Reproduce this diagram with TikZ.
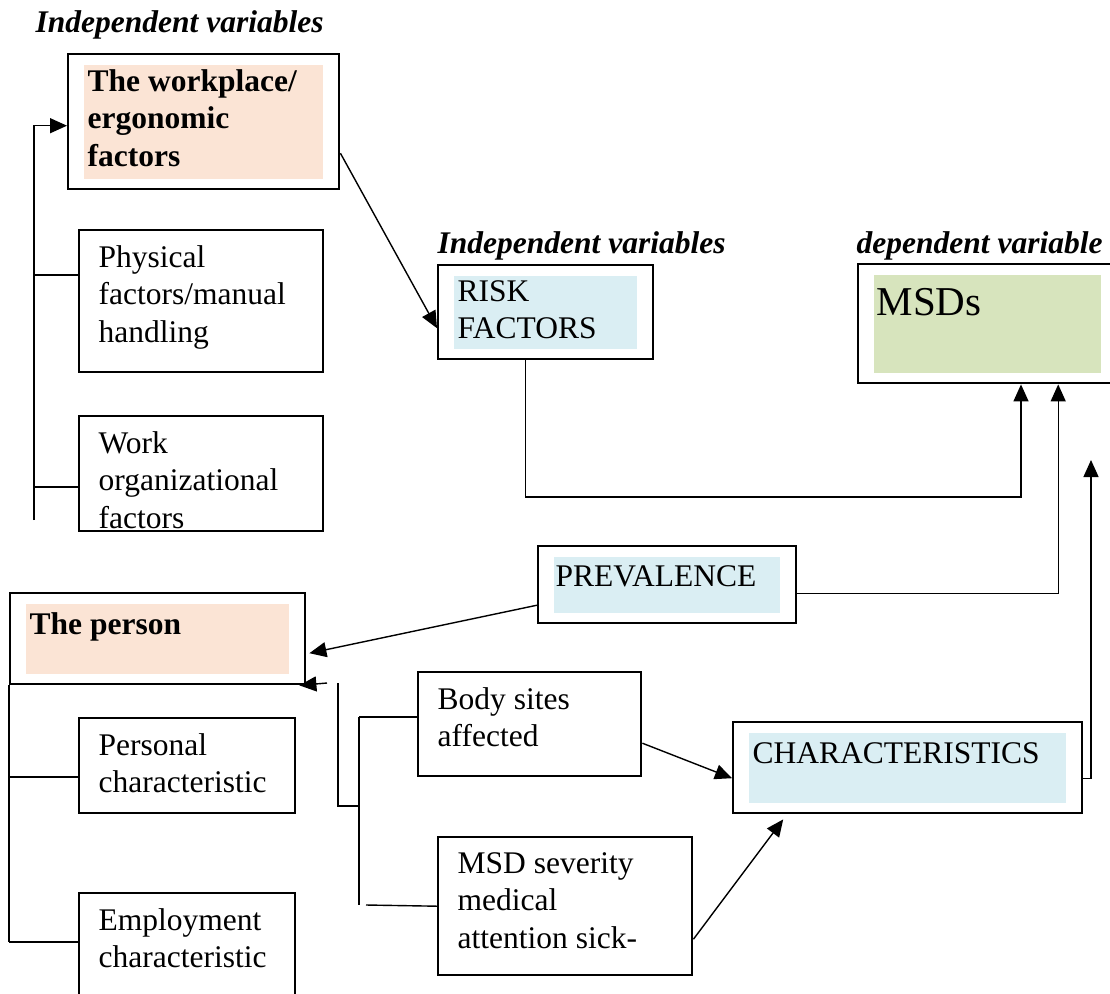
\documentclass[tikz,border=0pt]{standalone}
\usepackage{fontspec}
\setmainfont{Liberation Serif}
\usetikzlibrary{arrows.meta}

\definecolor{peach}{HTML}{FBE4D5}
\definecolor{paleblue}{HTML}{DAEEF3}
\definecolor{palegreen}{HTML}{D7E4BD}
\newcommand{\boxfont}{\fontsize{31.5}{37.5}\selectfont}

\begin{document}
\begin{tikzpicture}[x=1pt,y=-1pt,>={Triangle[length=17pt,width=15pt]},line width=1.4pt,
	box/.style={draw,line width=2.4pt,anchor=north west,inner sep=0pt},
	shade in/.style={path picture={\fill[#1] ([xshift=16pt,yshift=-11pt]path picture bounding box.north west) rectangle ([xshift=-16pt,yshift=10pt]path picture bounding box.south east);}},
	txt/.style={anchor=north west,inner sep=0pt,align=left,font=\boxfont,xshift=20pt,yshift=-15.5pt,execute at begin node=\strut},
	head/.style={anchor=base west,inner sep=0pt,font=\boxfont\bfseries\itshape}]
	\useasboundingbox (0,0) rectangle (1110,993);
	
	\node[head] (indep1) at (35,32) {Independent variables};
	\node[head] (indep2) at (437,253) {Independent variables};
	\node[head] (dep) at (856,253) {dependent variable};
	
	% the workplace
	\node[box,minimum width=271pt,minimum height=135pt,shade in=peach,label={[txt,font=\boxfont\bfseries]north west:The workplace/\\ergonomic\\factors}] (work) at (67,53) {};
	\node[box,minimum width=244pt,minimum height=142pt,label={[txt]north west:Physical\\factors/manual\\handling}] (phys) at (78,229) {};
	\node[box,minimum width=244pt,minimum height=115pt,label={[txt]north west:Work\\organizational\\factors}] (org) at (78,415) {};
	
	% risk, prevalence, msds
	\node[box,minimum width=215pt,minimum height=94pt,shade in=paleblue,label={[txt]north west:RISK\\FACTORS}] (risk) at (437,264) {};
	\node[box,minimum width=259pt,minimum height=119pt,shade in=palegreen,label={[txt,font=\fontsize{41}{48}\selectfont,xshift=-1pt,yshift=-3pt]north west:MSDs}] (msds) at (857,263) {};
	\node[box,minimum width=258pt,minimum height=77pt,shade in=paleblue,label={[txt,xshift=-2pt,yshift=1pt]north west:PREVALENCE}] (prev) at (537,545) {};
	
	% the person
	\node[box,minimum width=295pt,minimum height=91pt,shade in=peach,label={[txt,font=\boxfont\bfseries]north west:The person}] (person) at (9,592) {};
	\node[box,minimum width=216pt,minimum height=95pt,label={[txt]north west:Personal\\characteristic}] (pers) at (78,717) {};
	\node[box,minimum width=216pt,minimum height=130pt,label={[txt]north west:Employment\\characteristic}] (empl) at (78,892) {};
	
	% characteristics
	\node[box,minimum width=223pt,minimum height=104pt,label={[txt]north west:Body sites\\affected}] (body) at (417,671) {};
	\node[box,minimum width=254pt,minimum height=138pt,label={[txt]north west:MSD severity\\medical\\attention sick-}] (sev) at (437,836) {};
	\node[box,minimum width=349pt,minimum height=91pt,shade in=paleblue,label={[txt]north west:CHARACTERISTICS}] (char) at (732,721) {};
	
	\coordinate (wbot) at (34,520);
	\coordinate (wphys) at (34,275);
	\coordinate (worg) at (34,487);
	\draw[->] (wbot) |- ([yshift=-4pt]work.west);
	\draw (wphys) -- (wphys -| phys.west);
	\draw (worg) -- (worg -| org.west);
	
	\draw[->] ([yshift=-31.5pt]work.east) -- ([yshift=-16pt]risk.west);
	\coordinate (rjoin) at (1021,497);
	\draw[->] ([xshift=-20pt]risk.south) |- (rjoin) -- (rjoin |- msds.south);
	\draw[->] ([yshift=-8.5pt]prev.east) -| ([xshift=70.5pt]msds.south);
	\draw[->] ([yshift=-20.5pt]prev.west) -- ([xshift=3pt,yshift=-14.5pt]person.east);
	
	\coordinate (ctop) at (1091,460);
	\draw[->] ([yshift=-10.5pt]char.east) -| (ctop);
	\draw[->] ([yshift=-19pt]body.east) -- ([yshift=-10.5pt]char.west);
	\draw[->] ([yshift=-33pt]sev.east) -- ([xshift=-124.5pt,yshift=-5pt]char.south);
	
	\coordinate (pin) at (327,683);
	\coordinate (e1) at (338,683);
	\coordinate (e2) at (359,806);
	\coordinate (btop) at (359,717);
	\coordinate (bbot) at (359,905);
	\coordinate (sfoot) at (366,905);
	\draw[->] (pin) -- ([xshift=-7pt]person.south east);
	\draw (e1) |- (e2);
	\draw (btop) -- (bbot);
	\draw (btop) -- (btop -| body.west);
	\draw (sfoot) -- (sev.west);
	
	\coordinate (ppers) at (9,777);
	\coordinate (pbot) at (9,942);
	\draw (person.south west) -- (pbot);
	\draw (ppers) -- (ppers -| pers.west);
	\draw (pbot) -- (pbot -| empl.west);
\end{tikzpicture}
\end{document}
